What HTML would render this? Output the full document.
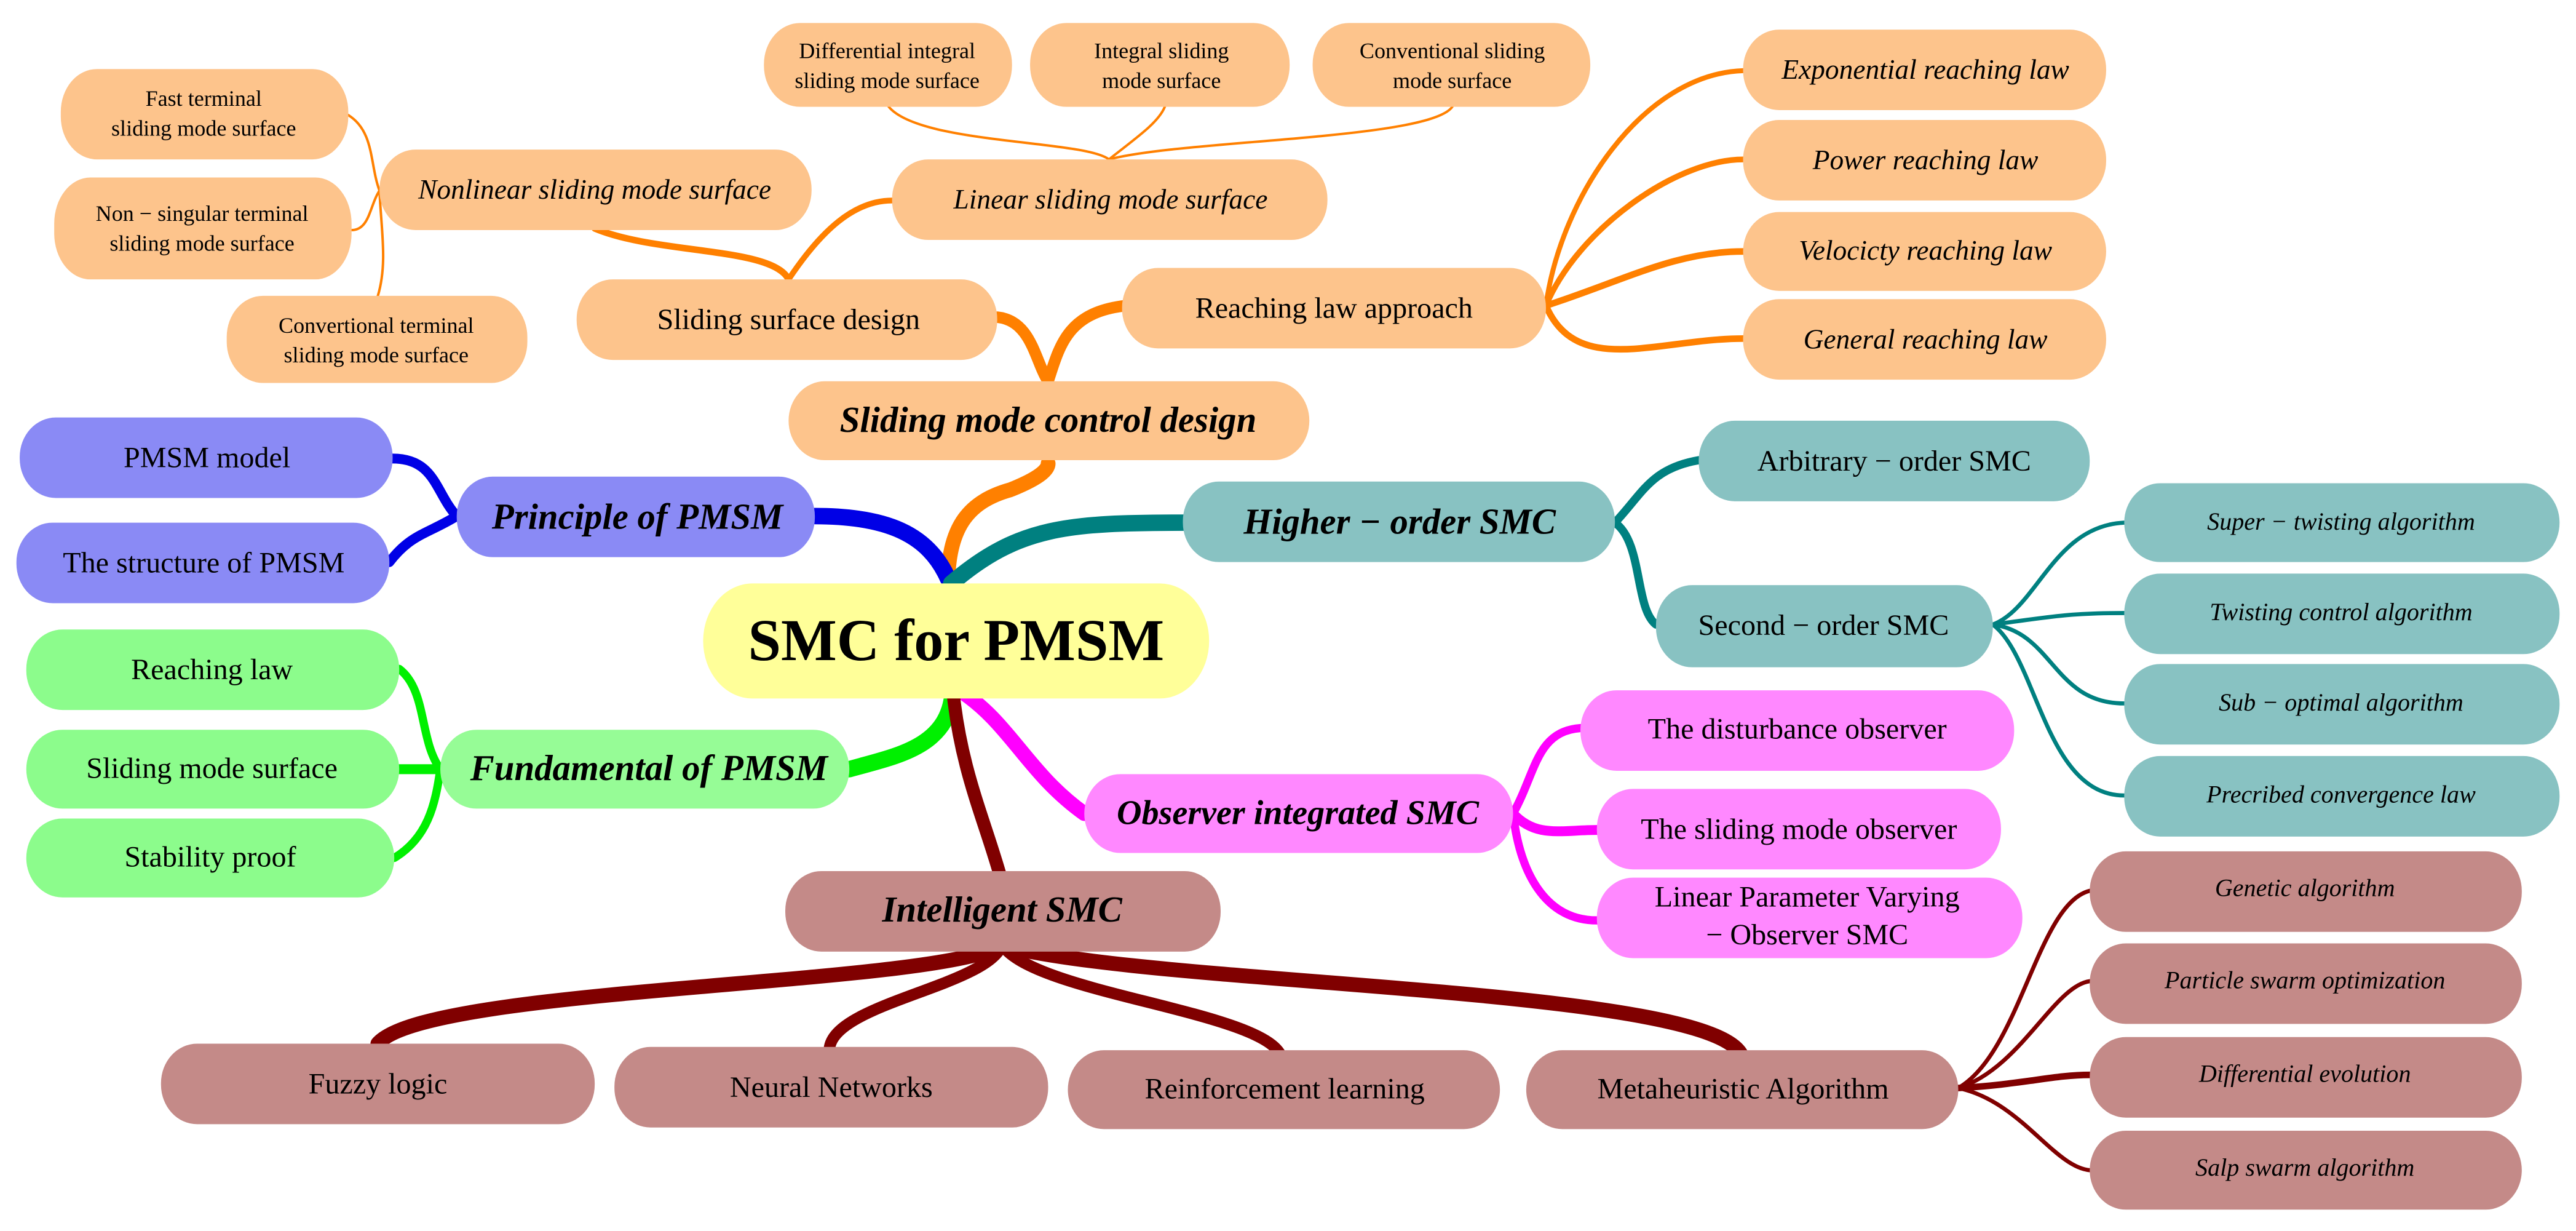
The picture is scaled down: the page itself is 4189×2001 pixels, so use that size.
<!DOCTYPE html>
<html><head><meta charset="utf-8"><style>
html,body{margin:0;padding:0;background:#fff;width:4189px;height:2001px;overflow:hidden;}
#w{position:absolute;left:0;top:0;width:1568px;height:749px;transform-origin:0 0;transform:scale(2.67156,2.6716);}
svg{position:absolute;left:0;top:0;display:block;}
.t{position:absolute;transform:translate(-50%,-50%);white-space:nowrap;text-align:center;font-family:"Liberation Serif","DejaVu Serif",serif;color:#000;line-height:1.3;}
.s{font-size:13.5px}
.m{font-size:18px}
.mi{font-size:17px;font-style:italic}
.si{font-size:15px;font-style:italic}
.b{font-size:22px;font-style:italic;font-weight:bold}
path{fill:none;stroke-linecap:round}
</style></head><body>
<div id="w">
<svg width="1568" height="749" viewBox="0 0 1568 749" xmlns="http://www.w3.org/2000/svg">
<g stroke="#FF8000">
<path d="M577,352 C578,320 590,305 615,298 C635,290 638,285 638,282" stroke-width="9"/>
<path d="M638,232 C630,220 628,195 607,193" stroke-width="7"/>
<path d="M638,232 C645,210 650,190 685,186" stroke-width="7"/>
<path d="M480,170 C470,150 400,155 362,139" stroke-width="4"/>
<path d="M480,170 C500,140 520,122 543,122" stroke-width="3.5"/>
<path d="M231,116 C225,100 228,80 212,70" stroke-width="1.5"/>
<path d="M231,116 C225,125 225,140 214,140" stroke-width="1.5"/>
<path d="M231,116 C232,140 236,160 230,180" stroke-width="1.5"/>
<path d="M675,97 C660,85 560,88 541,65" stroke-width="1.5"/>
<path d="M675,97 C690,85 705,75 709,65" stroke-width="1.5"/>
<path d="M675,97 C720,85 870,85 884,65" stroke-width="1.5"/>
<path d="M941,186 C950,120 1000,45 1061,43" stroke-width="3"/>
<path d="M941,186 C960,140 1020,97 1061,97" stroke-width="3.5"/>
<path d="M941,186 C990,170 1020,153 1061,153" stroke-width="4"/>
<path d="M941,186 C960,230 1010,206 1061,206" stroke-width="4"/>
</g>
<g stroke="#0000E6">
<path d="M577,352 C565,325 540,314 496,314" stroke-width="10"/>
<path d="M278,314 C265,300 265,279 239,279" stroke-width="6"/>
<path d="M278,314 C260,325 250,325 237,342" stroke-width="6"/>
</g>
<g stroke="#008080">
<path d="M579,355 C620,320 650,318 722,318" stroke-width="10"/>
<path d="M983,318 C1000,300 1005,285 1034,280" stroke-width="5"/>
<path d="M983,318 C1000,330 995,370 1008,380" stroke-width="5"/>
<path d="M1213,380 C1240,370 1250,320 1293,318" stroke-width="2.5"/>
<path d="M1213,380 C1250,375 1260,373 1293,373" stroke-width="2.5"/>
<path d="M1213,380 C1250,385 1250,428 1293,428" stroke-width="2.5"/>
<path d="M1213,380 C1240,400 1245,484 1293,484" stroke-width="2.5"/>
</g>
<g stroke="#00F000">
<path d="M580,420 C578,455 545,460 517,468" stroke-width="10"/>
<path d="M268,468 C255,450 260,420 243,407" stroke-width="5"/>
<path d="M268,468 L243,468" stroke-width="6"/>
<path d="M268,468 C265,490 260,510 240,522" stroke-width="5"/>
</g>
<g stroke="#FF00FF">
<path d="M584,420 C615,440 625,470 660,495" stroke-width="9"/>
<path d="M921,495 C935,470 935,445 962,443" stroke-width="5"/>
<path d="M921,495 C935,510 950,505 972,505" stroke-width="6"/>
<path d="M921,495 C925,530 940,560 972,560" stroke-width="5"/>
</g>
<g stroke="#800000">
<path d="M580,420 C585,470 600,500 610,537" stroke-width="8"/>
<path d="M610,575 C570,600 260,600 230,635" stroke-width="9"/>
<path d="M610,575 C600,600 510,610 505,637" stroke-width="7"/>
<path d="M610,575 C630,605 770,615 780,643" stroke-width="7"/>
<path d="M610,575 C700,600 1040,600 1060,642" stroke-width="9"/>
<path d="M1192,662 C1230,640 1240,550 1272,542" stroke-width="2.5"/>
<path d="M1192,662 C1230,650 1250,600 1272,597" stroke-width="2.5"/>
<path d="M1192,662 C1230,660 1250,654 1272,654" stroke-width="4"/>
<path d="M1192,662 C1230,670 1250,710 1272,712" stroke-width="2.5"/>
</g>
<g fill="#FDC48C">
<rect x="37" y="42" width="175" height="55" rx="22" ry="26"/>
<rect x="33" y="108" width="181" height="62" rx="22" ry="28"/>
<rect x="138" y="180" width="183" height="53" rx="22" ry="25"/>
<rect x="231" y="91" width="263" height="49" rx="22" ry="24"/>
<rect x="465" y="14" width="151" height="51" rx="22" ry="25"/>
<rect x="627" y="14" width="158" height="51" rx="22" ry="25"/>
<rect x="799" y="14" width="169" height="51" rx="22" ry="25"/>
<rect x="543" y="97" width="265" height="49" rx="22" ry="24"/>
<rect x="351" y="170" width="256" height="49" rx="22" ry="24"/>
<rect x="683" y="163" width="258" height="49" rx="22" ry="24"/>
<rect x="480" y="232" width="317" height="48" rx="22" ry="24"/>
<rect x="1061" y="18" width="221" height="49" rx="22" ry="24"/>
<rect x="1061" y="73" width="221" height="49" rx="22" ry="24"/>
<rect x="1061" y="129" width="221" height="48" rx="22" ry="24"/>
<rect x="1061" y="182" width="221" height="49" rx="22" ry="24"/>
</g>
<g fill="#8A8AF5">
<rect x="12" y="254" width="227" height="49" rx="22" ry="24"/>
<rect x="10" y="318" width="227" height="49" rx="22" ry="24"/>
<rect x="278" y="290" width="218" height="49" rx="22" ry="24"/>
</g>
<g fill="#88C2C2">
<rect x="720" y="293" width="263" height="49" rx="22" ry="24"/>
<rect x="1034" y="256" width="238" height="49" rx="22" ry="24"/>
<rect x="1008" y="356" width="205" height="50" rx="22" ry="24"/>
<rect x="1293" y="294" width="265" height="48" rx="22" ry="24"/>
<rect x="1293" y="349" width="265" height="49" rx="22" ry="24"/>
<rect x="1293" y="404" width="265" height="49" rx="22" ry="24"/>
<rect x="1293" y="460" width="265" height="49" rx="22" ry="24"/>
</g>
<rect x="428" y="355" width="308" height="70" rx="30" ry="35" fill="#FFFF99"/>
<g fill="#8CFC8C">
<rect x="16" y="383" width="227" height="49" rx="22" ry="24"/>
<rect x="16" y="444" width="227" height="48" rx="22" ry="24"/>
<rect x="16" y="498" width="224" height="48" rx="22" ry="24"/>
</g>
<rect x="268" y="444" width="249" height="48" rx="22" ry="24" fill="#96FC96"/>
<g fill="#FF88FF">
<rect x="660" y="471" width="261" height="48" rx="22" ry="24"/>
<rect x="962" y="420" width="264" height="49" rx="22" ry="24"/>
<rect x="972" y="480" width="246" height="49" rx="22" ry="24"/>
<rect x="972" y="534" width="259" height="49" rx="22" ry="24"/>
</g>
<g fill="#C48A88">
<rect x="478" y="530" width="265" height="49" rx="22" ry="24"/>
<rect x="98" y="635" width="264" height="49" rx="22" ry="24"/>
<rect x="374" y="637" width="264" height="49" rx="22" ry="24"/>
<rect x="650" y="639" width="263" height="48" rx="22" ry="24"/>
<rect x="929" y="639" width="263" height="48" rx="22" ry="24"/>
<rect x="1272" y="518" width="263" height="49" rx="22" ry="24"/>
<rect x="1272" y="574" width="263" height="49" rx="22" ry="24"/>
<rect x="1272" y="631" width="263" height="49" rx="22" ry="24"/>
<rect x="1272" y="688" width="263" height="48" rx="22" ry="24"/>
</g>
</svg>
<div class="t s" style="left:124px;top:69px">Fast terminal<br>sliding mode surface</div>
<div class="t s" style="left:123px;top:139px">Non − singular terminal<br>sliding mode surface</div>
<div class="t s" style="left:229px;top:207px">Convertional terminal<br>sliding mode surface</div>
<div class="t mi" style="left:362px;top:116px">Nonlinear sliding mode surface</div>
<div class="t s" style="left:540px;top:40px">Differential integral<br>sliding mode surface</div>
<div class="t s" style="left:707px;top:40px">Integral sliding<br>mode surface</div>
<div class="t s" style="left:884px;top:40px">Conventional sliding<br>mode surface</div>
<div class="t mi" style="left:676px;top:122px">Linear sliding mode surface</div>
<div class="t m" style="left:480px;top:195px">Sliding surface design</div>
<div class="t m" style="left:812px;top:188px">Reaching law approach</div>
<div class="t b" style="left:638px;top:256px">Sliding mode control design</div>
<div class="t mi" style="left:1172px;top:43px">Exponential reaching law</div>
<div class="t mi" style="left:1172px;top:98px">Power reaching law</div>
<div class="t mi" style="left:1172px;top:153px">Velocicty reaching law</div>
<div class="t mi" style="left:1172px;top:207px">General reaching law</div>
<div class="t m" style="left:126px;top:279px">PMSM model</div>
<div class="t m" style="left:124px;top:343px">The structure of PMSM</div>
<div class="t b" style="left:388px;top:315px">Principle of PMSM</div>
<div class="t b" style="left:852px;top:318px">Higher − order SMC</div>
<div class="t m" style="left:1153px;top:281px">Arbitrary − order SMC</div>
<div class="t m" style="left:1110px;top:381px">Second − order SMC</div>
<div class="t si" style="left:1425px;top:319px">Super − twisting algorithm</div>
<div class="t si" style="left:1425px;top:374px">Twisting control algorithm</div>
<div class="t si" style="left:1425px;top:429px">Sub − optimal algorithm</div>
<div class="t si" style="left:1425px;top:485px">Precribed convergence law</div>
<div class="t" style="left:582px;top:390px;font-size:36px;font-weight:bold">SMC for PMSM</div>
<div class="t m" style="left:129px;top:408px">Reaching law</div>
<div class="t m" style="left:129px;top:468px">Sliding mode surface</div>
<div class="t m" style="left:128px;top:522px">Stability proof</div>
<div class="t b" style="left:395px;top:468px">Fundamental of PMSM</div>
<div class="t b" style="left:790px;top:495px;font-size:21px">Observer integrated SMC</div>
<div class="t m" style="left:1094px;top:444px">The disturbance observer</div>
<div class="t m" style="left:1095px;top:505px">The sliding mode observer</div>
<div class="t m" style="left:1100px;top:558px">Linear Parameter Varying<br>−  Observer SMC</div>
<div class="t b" style="left:610px;top:554px">Intelligent SMC</div>
<div class="t m" style="left:230px;top:660px">Fuzzy logic</div>
<div class="t m" style="left:506px;top:662px">Neural Networks</div>
<div class="t m" style="left:782px;top:663px">Reinforcement learning</div>
<div class="t m" style="left:1061px;top:663px">Metaheuristic Algorithm</div>
<div class="t si" style="left:1403px;top:542px">Genetic algorithm</div>
<div class="t si" style="left:1403px;top:598px">Particle swarm optimization</div>
<div class="t si" style="left:1403px;top:655px">Differential evolution</div>
<div class="t si" style="left:1403px;top:712px">Salp swarm algorithm</div>
</div>
</body></html>
